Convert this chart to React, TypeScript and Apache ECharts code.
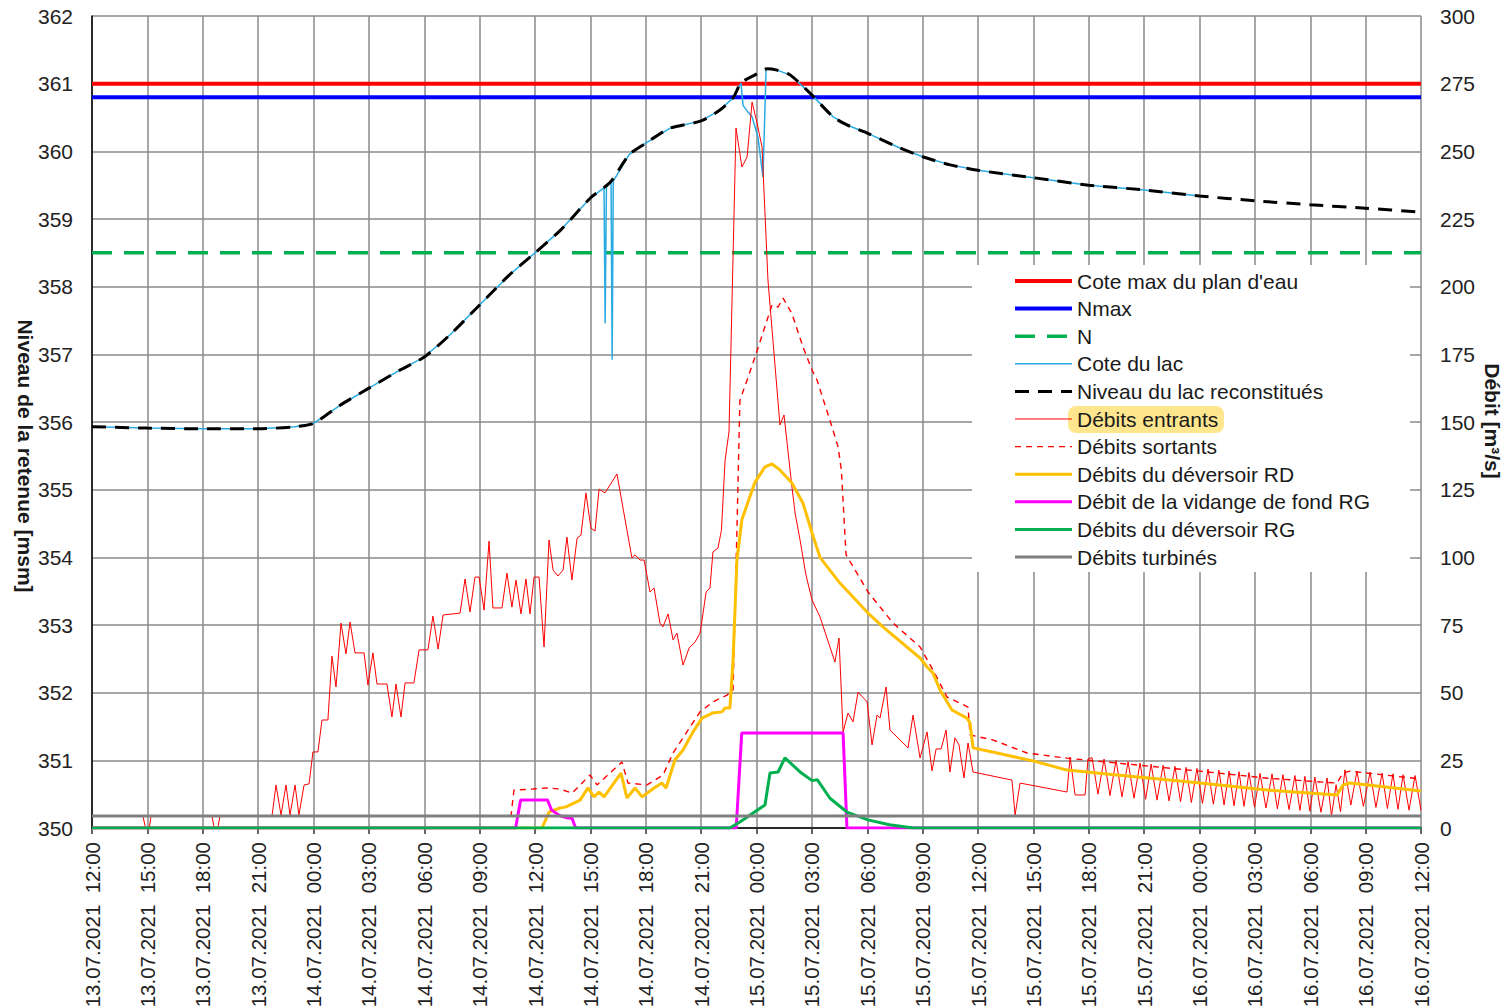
import React, { useEffect, useRef } from "react";
import * as echarts from "echarts";

const FONT = "'Liberation Sans', Arial, sans-serif";

const xTickLabels = [
  "13.07.2021  12:00", "13.07.2021  15:00", "13.07.2021  18:00", "13.07.2021  21:00",
  "14.07.2021  00:00", "14.07.2021  03:00", "14.07.2021  06:00", "14.07.2021  09:00",
  "14.07.2021  12:00", "14.07.2021  15:00", "14.07.2021  18:00", "14.07.2021  21:00",
  "15.07.2021  00:00", "15.07.2021  03:00", "15.07.2021  06:00", "15.07.2021  09:00",
  "15.07.2021  12:00", "15.07.2021  15:00", "15.07.2021  18:00", "15.07.2021  21:00",
  "16.07.2021  00:00", "16.07.2021  03:00", "16.07.2021  06:00", "16.07.2021  09:00",
  "16.07.2021  12:00",
];

const seriesNames = [
  "Cote max du plan d'eau",
  "Nmax",
  "N",
  "Cote du lac",
  "Niveau du lac reconstitués",
  "Débits entrants",
  "Débits sortants",
  "Débits du déversoir RD",
  "Débit de la vidange de fond RG",
  "Débits du déversoir RG",
  "Débits turbinés",
];

const coteMax = 361.0;
const nMax = 360.8;
const nLevel = 358.5;
const turbined = 4.4;

// hours since 13.07.2021 12:00 , level [msm]
const lakeRecon: [number, number][] = [
  [0, 355.93], [3, 355.91], [6, 355.9], [9, 355.9], [11, 355.93], [12, 355.98], [13.4, 356.24],
  [15, 356.5], [16.7, 356.77], [18, 356.96], [19.4, 357.29], [21, 357.73], [22.6, 358.17],
  [24, 358.5], [25.4, 358.84], [27, 359.31], [28.1, 359.55], [29.1, 359.95], [30, 360.12],
  [31.3, 360.34], [33, 360.45], [34.02, 360.61], [34.73, 360.79], [35.16, 361.01], [35.92, 361.13],
  [36.57, 361.22], [37.11, 361.2], [37.82, 361.13], [38.9, 360.86], [40.15, 360.51], [40.9, 360.39],
  [42, 360.27], [43.77, 360.05], [45, 359.92], [46.5, 359.8], [48, 359.72], [51, 359.61],
  [54, 359.5], [57, 359.43], [60, 359.34], [63, 359.27], [66, 359.21], [69, 359.16], [72, 359.1],
];

const lakeObserved: [number, number][] = [
  [0, 355.93], [3, 355.91], [6, 355.9], [9, 355.9], [11, 355.93], [12, 355.98], [13.4, 356.24],
  [15, 356.5], [16.7, 356.77], [18, 356.96], [19.4, 357.29], [21, 357.73], [22.6, 358.17],
  [24, 358.5], [25.4, 358.84], [27, 359.31], [27.74, 359.46], [27.8, 357.46], [27.87, 359.47],
  [28.12, 359.55], [28.18, 356.92], [28.24, 359.56], [29.1, 359.95], [30, 360.12],
  [31.3, 360.34], [33, 360.45], [34.02, 360.61], [34.73, 360.79], [35.16, 361.01], [35.27, 360.68],
  [35.54, 360.58], [35.76, 360.51], [36.08, 360.21], [36.35, 359.62], [36.52, 361.22],
  [37.11, 361.2], [37.82, 361.13], [38.9, 360.86], [40.15, 360.51], [40.9, 360.39],
  [42, 360.27], [43.77, 360.05], [45, 359.92], [46.5, 359.8], [48, 359.72], [51, 359.61],
  [54, 359.5], [57, 359.43], [60, 359.34],
];

// hours, discharge [m3/s]
const inflow: [number, number][] = [
  [0, 4.4], [2.76, 4.4], [2.9, 0], [3.1, 0], [3.2, 4.4], [6.5, 4.4], [6.62, 0], [6.82, 0], [6.93, 4.4],
  [9.75, 4.4], [9.97, 15.9], [10.24, 4.8], [10.51, 15.9], [10.73, 4.8], [11.0, 15.9], [11.21, 4.8],
  [11.49, 15.9], [11.76, 16.3], [11.97, 28.1], [12.24, 28.1], [12.46, 39.9], [12.78, 39.9],
  [13.0, 63.5], [13.22, 52.1], [13.49, 75.7], [13.76, 64.3], [13.98, 76.1], [14.25, 64.7],
  [14.74, 64.7], [14.95, 52.8], [15.22, 64.7], [15.44, 53.2], [15.98, 53.2], [16.25, 41.0],
  [16.47, 53.2], [16.74, 41.0], [16.96, 53.6], [17.44, 53.6], [17.72, 65.8], [18.2, 65.8],
  [18.47, 78.3], [18.75, 66.1], [19.02, 78.7], [19.94, 79.4], [20.21, 92.0], [20.48, 79.8],
  [20.75, 92.7], [20.97, 92.7], [21.24, 80.5], [21.51, 106.0], [21.72, 81.3], [22.21, 81.3],
  [22.48, 94.2], [22.75, 81.6], [22.97, 91.6], [23.24, 79.1], [23.51, 92.0], [23.73, 79.1],
  [23.95, 92.7], [24.22, 92.7], [24.49, 66.9], [24.76, 106.4], [24.98, 95.3], [25.25, 93.1],
  [25.52, 95.3], [25.73, 107.5], [26.0, 91.6], [26.28, 107.1], [26.49, 108.2], [26.76, 123.8],
  [27.03, 110.8], [27.25, 109.7], [27.47, 125.2], [27.79, 123.8], [28.44, 130.8], [29.25, 99.8],
  [29.42, 100.9], [29.69, 99.0], [29.91, 99.0], [30.23, 87.2], [30.45, 88.7], [30.77, 75.7],
  [30.93, 74.3], [31.21, 79.1], [31.48, 69.5], [31.69, 72.0], [32.02, 60.2], [32.35, 66.5],
  [32.67, 68.7], [32.94, 72.0], [33.05, 76.8], [33.27, 87.2], [33.48, 88.7], [33.64, 102.0],
  [33.91, 103.4], [34.1, 110], [34.3, 136], [34.51, 146.3], [34.89, 258.6], [35.21, 244.2],
  [35.49, 247.9], [35.76, 268.2], [36.03, 260.5], [36.3, 251.6], [36.62, 202.5], [37.27, 148.9],
  [37.49, 152.6], [37.92, 126], [38.09, 116.4], [38.36, 106.4], [38.68, 93.5], [39.01, 84.2],
  [39.44, 78], [40.25, 61.3], [40.47, 70.2], [40.69, 35.5], [40.96, 42.5], [41.23, 39.2],
  [41.5, 50.2], [41.99, 46.6], [42.26, 30.7], [42.53, 41.7], [42.69, 40.6], [43.02, 52.1],
  [43.23, 36.2], [44.21, 29.6], [44.48, 41.7], [44.86, 25.9], [45.24, 35.5], [45.51, 21.1],
  [45.73, 29.2], [46.0, 29.2], [46.27, 36.2], [46.48, 20.7], [46.75, 33.3], [46.97, 30.7],
  [47.24, 18.5], [47.46, 31.4], [47.73, 20.7], [49.84, 17.7], [50.01, 4.8], [50.28, 16.6],
  [52.82, 13.3], [52.99, 26.2], [53.26, 12.2], [53.8, 12.2], [53.96, 25.5],
  [54.18, 26], [54.5, 12.5], [54.83, 25.5], [55.15, 12], [55.48, 25], [55.8, 11.5], [56.13, 24.5],
  [56.45, 11], [56.78, 24], [57.08, 10.6], [57.38, 23.6], [57.7, 10.3], [58.03, 23.2], [58.35, 10],
  [58.67, 22.8], [58.97, 9.7], [59.27, 22.4], [59.56, 9.4], [59.86, 22], [60.16, 9.1], [60.46, 21.8],
  [60.75, 8.8], [61.05, 21.4], [61.33, 8.5], [61.6, 21], [61.87, 8.2], [62.14, 20.8], [62.41, 8],
  [62.68, 20.5], [62.98, 7.7], [63.28, 20.2], [63.6, 7.4], [63.93, 20], [64.22, 7.1], [64.52, 19.7],
  [64.85, 6.8], [65.17, 19.4], [65.44, 6.5], [65.71, 19.1], [65.98, 6.2], [66.25, 18.8], [66.58, 5.8],
  [66.91, 18.5], [67.15, 4.5], [67.4, 16], [67.64, 6], [67.88, 21.5], [68.2, 8.5], [68.53, 21],
  [68.88, 8], [69.24, 20.6], [69.56, 7.6], [69.89, 20.3], [70.18, 7.2], [70.48, 20], [70.75, 6.9],
  [71.03, 19.7], [71.35, 6.6], [71.68, 19.4], [72, 6.5],
];

const outflow: [number, number][] = [
  [0, 4.4], [22.7, 4.4], [22.86, 14], [23.89, 14.4], [24.65, 14.8], [25.35, 14.4], [26.01, 12.9],
  [26.98, 19.6], [27.36, 15.9], [28.71, 24.4], [29.04, 16.6], [30.07, 15.9], [30.94, 19.6],
  [31.48, 27.7], [32.94, 42.9], [33.64, 46.6], [34.4, 49.1], [34.73, 51], [34.94, 110], [35.1, 158],
  [35.49, 165.5], [35.92, 174], [36.35, 183], [36.84, 193.2], [37.17, 192.5], [37.44, 195.8],
  [37.92, 190], [38.52, 177.7], [39.01, 169.2], [39.28, 165.5], [40.09, 148.2], [40.42, 140.8],
  [40.6, 132], [40.85, 101], [42.04, 87.2], [43.4, 75.7], [44.86, 66.9], [45.56, 58.4],
  [46.32, 48.4], [47.46, 44.7], [47.57, 34.4], [48.82, 32.5], [50.65, 27.7], [52.82, 25.8],
  [55.53, 24], [60.03, 21], [63.66, 18.4], [67.45, 16.6], [67.77, 20.3], [68.15, 21], [72, 18.1],
];

const spillwayRD: [number, number][] = [
  [0, 0], [24.38, 0], [24.76, 5.9], [25.35, 7.4], [25.68, 7.8], [26.44, 10.3], [26.87, 14.8],
  [27.19, 11.5], [27.47, 13.3], [27.74, 11.5], [28.66, 20.3], [28.98, 11.1], [29.42, 14.8],
  [29.8, 11.5], [30.45, 14.8], [30.88, 16.6], [31.1, 14.8], [31.58, 25.1], [32.02, 28.8],
  [32.56, 35.5], [33.05, 40.6], [33.64, 42.5], [34.13, 42.9], [34.29, 44.3], [34.56, 44.3],
  [34.73, 62], [34.94, 99], [35.21, 114], [35.92, 127.8], [36.46, 133.4], [36.84, 134.5],
  [37.27, 132.3], [37.92, 127.5], [38.52, 120], [39.01, 109], [39.44, 100], [40.52, 90.5],
  [42.04, 79.4], [42.85, 74.3], [44.86, 62.8], [45.24, 59.5], [45.56, 57.3], [45.94, 51],
  [46.59, 43.6], [47.4, 40.6], [47.57, 38.8], [47.73, 29.6], [49.03, 27.7], [50.98, 24.8],
  [52.82, 21.4], [55.53, 19.6], [60.03, 16.6], [63.66, 14], [67.45, 12.2], [67.77, 15.9],
  [68.15, 16.6], [72, 13.7],
];

const bottomOutletRG: [number, number][] = [
  [0, 0], [22.95, 0], [23.22, 10.3], [24.68, 10.3], [24.9, 6.6], [25.35, 4.5], [25.79, 3.7],
  [26.0, 3.7], [26.2, 0], [34.9, 0], [35.2, 35.1], [40.69, 35.1], [40.9, 0], [72, 0],
];

const spillwayRG: [number, number][] = [
  [0, 0], [34.55, 0], [35.1, 2.2], [36.46, 8.5], [36.73, 20.3], [37.17, 20.7], [37.54, 25.9],
  [38.36, 20.7], [39.01, 17.5], [39.3, 17.8], [39.98, 11], [40.9, 5.9], [42.04, 3], [43.2, 1.2],
  [44.5, 0], [72, 0],
];

function lineSeries(
  name: string,
  data: [number, number][],
  yAxisIndex: number,
  color: string,
  width: number,
  type: any = "solid",
  smooth: number | boolean = false
) {
  return {
    name,
    type: "line",
    yAxisIndex,
    data,
    symbol: "none",
    showSymbol: false,
    smooth,
    lineStyle: { color, width, type, cap: "butt" },
    itemStyle: { color },
    emphasis: { disabled: true },
  };
}

export default function App() {
  const ref = useRef<HTMLDivElement>(null);

  useEffect(() => {
    if (!ref.current) return;
    const chart = echarts.init(ref.current, null, { renderer: "svg" });
    const gridColor = "#8a8a8a";
    const labelColor = "#222";

    const option: any = {
      animation: false,
      backgroundColor: "#fff",
      textStyle: { fontFamily: FONT },
      grid: {
        left: 92,
        right: 88,
        top: 16,
        bottom: 179,
        containLabel: false,
        outerBoundsMode: "none",
      },
      xAxis: {
        type: "value",
        min: 0,
        max: 72,
        interval: 3,
        axisLine: { show: true, lineStyle: { color: "#000", width: 1.5 } },
        axisTick: { show: true, length: 6, lineStyle: { color: "#333", width: 1.5 } },
        splitLine: { show: true, lineStyle: { color: gridColor, width: 1.5 } },
        axisLabel: {
          rotate: 90,
          margin: 14,
          fontSize: 20.5,
          color: labelColor,
          fontFamily: FONT,
          formatter: (v: number) => xTickLabels[Math.round(v / 3)] ?? "",
        },
      },
      yAxis: [
        {
          type: "value",
          min: 350,
          max: 362,
          interval: 1,
          axisLine: { show: true, lineStyle: { color: "#000", width: 1.5 } },
          axisTick: { show: false },
          splitLine: { show: true, lineStyle: { color: gridColor, width: 1.5 } },
          axisLabel: { fontSize: 21, color: labelColor, margin: 19, fontFamily: FONT },
        },
        {
          type: "value",
          min: 0,
          max: 300,
          interval: 25,
          axisLine: { show: false },
          axisTick: { show: false },
          splitLine: { show: false },
          axisLabel: { fontSize: 21, color: labelColor, margin: 19, fontFamily: FONT },
        },
      ],
      legend: {
        orient: "vertical",
        left: 1013,
        top: 270.5,
        padding: 0,
        itemWidth: 57,
        itemHeight: 14,
        itemGap: 6.6,
        data: seriesNames,
        selectedMode: false,
        itemStyle: { opacity: 0 },
        lineStyle: { width: "inherit" },
        textStyle: { fontSize: 21, color: "#1a1a1a", fontFamily: FONT, lineHeight: 21 },
        z: 4,
      },
      graphic: [
        {
          type: "rect",
          z: 3,
          silent: true,
          shape: { x: 972, y: 265, width: 438, height: 307 },
          style: { fill: "#ffffff" },
        },
        {
          type: "rect",
          z: 3.5,
          silent: true,
          shape: { x: 1068, y: 406, width: 156, height: 27, r: 8 },
          style: { fill: "#fde68e" },
        },
        {
          type: "text",
          x: 25,
          y: 456,
          rotation: -Math.PI / 2,
          style: {
            text: "Niveau de la retenue [msm]",
            fontSize: 21,
            fontWeight: "bold",
            fontFamily: FONT,
            fill: "#1a1a1a",
            textAlign: "center",
            align: "center",
            textVerticalAlign: "middle",
            verticalAlign: "middle",
          },
        },
        {
          type: "text",
          x: 1492,
          y: 421,
          rotation: -Math.PI / 2,
          style: {
            text: "Débit [m³/s]",
            fontSize: 21,
            fontWeight: "bold",
            fontFamily: FONT,
            fill: "#1a1a1a",
            textAlign: "center",
            align: "center",
            textVerticalAlign: "middle",
            verticalAlign: "middle",
          },
        },
      ],
      series: [
        lineSeries(seriesNames[0], [[0, coteMax], [72, coteMax]], 0, "#ff0000", 4),
        lineSeries(seriesNames[1], [[0, nMax], [72, nMax]], 0, "#0000ff", 4),
        lineSeries(seriesNames[2], [[0, nLevel], [72, nLevel]], 0, "#00b050", 3.5, [20, 12]),
        lineSeries(seriesNames[3], lakeObserved, 0, "#29abe2", 1.5),
        lineSeries(seriesNames[4], lakeRecon, 0, "#000000", 3, [14, 9], 0.25),
        lineSeries(seriesNames[5], inflow, 1, "#ff0000", 1),
        lineSeries(seriesNames[6], outflow, 1, "#ff0000", 1.4, [6, 5]),
        lineSeries(seriesNames[7], spillwayRD, 1, "#ffc000", 3),
        lineSeries(seriesNames[8], bottomOutletRG, 1, "#ff00ff", 3),
        lineSeries(seriesNames[9], spillwayRG, 1, "#00b050", 3),
        lineSeries(seriesNames[10], [[0, turbined], [72, turbined]], 1, "#7f7f7f", 3),
      ],
    };
    chart.setOption(option);
    return () => chart.dispose();
  }, []);

  return (
    <div
      ref={ref}
      style={{ position: "absolute", left: 0, top: 0, width: 1509, height: 1007, background: "#fff" }}
    />
  );
}
